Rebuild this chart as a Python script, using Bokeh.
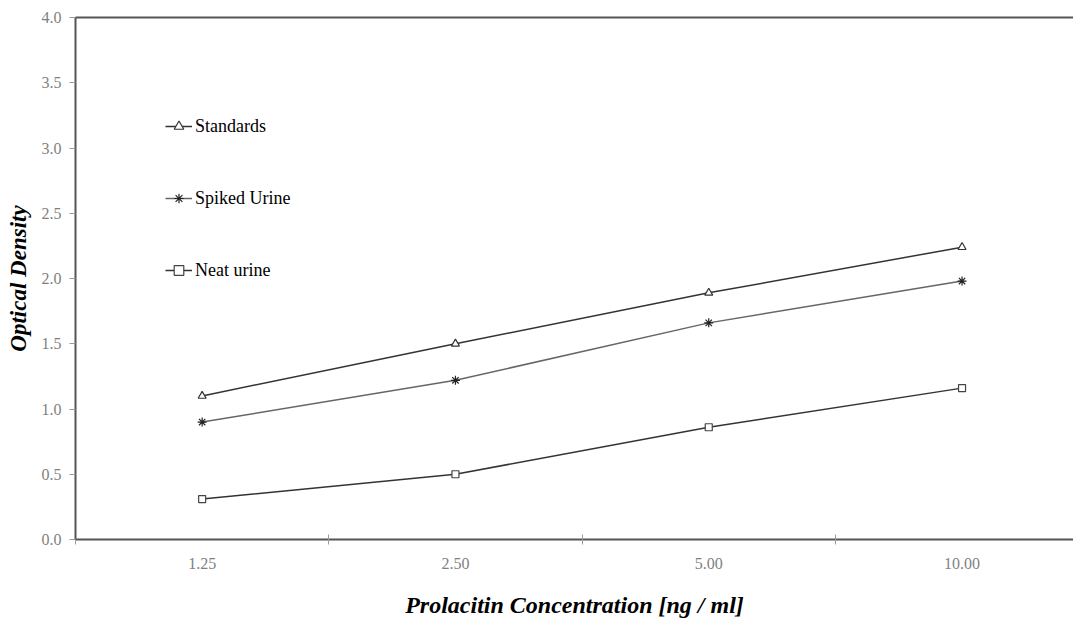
from bokeh.plotting import figure
from bokeh.models import Range1d, FixedTicker, LinearAxis, Legend, LegendItem
from bokeh.embed import file_html
from bokeh.resources import INLINE

categories = ["1.25", "2.50", "5.00", "10.00"]
standards = [1.10, 1.50, 1.89, 2.24]
spiked_urine = [0.90, 1.22, 1.66, 1.98]
neat_urine = [0.31, 0.50, 0.86, 1.16]
y_ticks = [0.0, 0.5, 1.0, 1.5, 2.0, 2.5, 3.0, 3.5, 4.0]

xs = list(range(len(categories)))
SERIF = "Liberation Serif"
AXIS_COLOR = "#555555"
TICK_LABEL_COLOR = "#7f7f7f"

p = figure(width=1073, height=620, output_backend="svg", toolbar_location=None,
           x_range=Range1d(-0.5, 3.44), y_range=Range1d(0, 4.0),
           min_border_left=75, min_border_right=0, min_border_top=17, min_border_bottom=0)
p.outline_line_color = None
p.xgrid.visible = False
p.ygrid.visible = False
p.background_fill_color = "white"

# x axis
xa = p.xaxis[0]
xa.ticker = FixedTicker(ticks=xs, minor_ticks=[i - 0.5 for i in range(len(categories) + 1)])
xa.major_label_overrides = {i: c for i, c in enumerate(categories)}
xa.major_tick_in = 0
xa.major_tick_out = 0
xa.minor_tick_in = 5
xa.minor_tick_out = 5
xa.minor_tick_line_color = "#999999"
xa.axis_line_color = AXIS_COLOR
xa.axis_line_width = 2
xa.major_label_text_font = SERIF
xa.major_label_text_font_size = "16px"
xa.major_label_text_color = TICK_LABEL_COLOR
xa.major_label_standoff = 13
xa.axis_label = "Prolacitin Concentration [ng / ml]"
xa.axis_label_text_font = SERIF
xa.axis_label_text_font_size = "24px"
xa.axis_label_text_font_style = "bold italic"
xa.axis_label_text_color = "black"
xa.axis_label_standoff = 20

# y axis
ya = p.yaxis[0]
ya.ticker = FixedTicker(ticks=y_ticks, minor_ticks=[])
ya.major_label_overrides = {t: f"{t:.1f}" for t in y_ticks}
ya.major_tick_in = 0
ya.major_tick_out = 6
ya.major_tick_line_color = "#999999"
ya.axis_line_color = AXIS_COLOR
ya.axis_line_width = 2
ya.major_label_text_font = SERIF
ya.major_label_text_font_size = "16px"
ya.major_label_text_color = TICK_LABEL_COLOR
ya.major_label_standoff = 8
ya.axis_label = "Optical Density"
ya.axis_label_text_font = SERIF
ya.axis_label_text_font_size = "23px"
ya.axis_label_text_font_style = "bold italic"
ya.axis_label_text_color = "black"
ya.axis_label_standoff = 8

# top border line
top = LinearAxis(ticker=FixedTicker(ticks=[]), axis_line_color=AXIS_COLOR, axis_line_width=2,
                 major_label_text_font_size="0px", major_tick_out=0, minor_tick_out=0)
p.add_layout(top, "above")

l1 = p.line(xs, standards, line_color="#333333", line_width=1.5)
m1 = p.scatter(xs, standards, marker="triangle", size=8, fill_color="white",
               line_color="#333333", line_width=1.2)
l2 = p.line(xs, spiked_urine, line_color="#666666", line_width=1.5)
m2 = p.scatter(xs, spiked_urine, marker="asterisk", size=9, line_color="#222222", line_width=1.2)
l3 = p.line(xs, neat_urine, line_color="#333333", line_width=1.5)
m3 = p.scatter(xs, neat_urine, marker="square", size=7, fill_color="white",
               line_color="#444444", line_width=1.2)

legend = Legend(items=[
    LegendItem(label="Standards", renderers=[l1, m1]),
    LegendItem(label="Spiked Urine", renderers=[l2, m2]),
    LegendItem(label="Neat urine", renderers=[l3, m3]),
], location=(90, 257), orientation="vertical")
legend.background_fill_alpha = 0
legend.border_line_color = None
legend.padding = 0
legend.margin = 0
legend.spacing = 48
legend.glyph_width = 27
legend.glyph_height = 24
legend.label_standoff = 3
legend.label_height = 24
legend.label_text_font = SERIF
legend.label_text_font_size = "18px"
legend.label_text_color = "black"
p.add_layout(legend, "center")

open("out.html", "w").write(file_html(p, INLINE))
